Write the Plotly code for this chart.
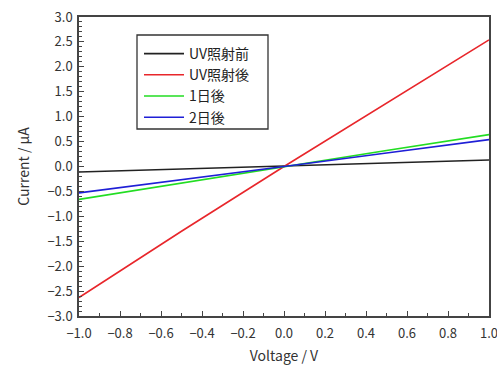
import plotly.graph_objects as go

voltage = [-1.0, -0.5, 0.0, 0.5, 1.0]
before_uv = [-0.11, -0.05, 0.0, 0.06, 0.13]
after_uv = [-2.63, -1.3, 0.0, 1.27, 2.54]
day1 = [-0.66, -0.33, 0.0, 0.32, 0.64]
day2 = [-0.53, -0.27, 0.0, 0.27, 0.54]

names = ["UV照射前", "UV照射後", "1日後", "2日後"]
colors = ["#222222", "#e8262b", "#22dd22", "#1f1fd6"]
series = [before_uv, after_uv, day1, day2]

fig = go.Figure()
for n, c, s in zip(names, colors, series):
    fig.add_trace(go.Scatter(x=voltage, y=s, mode="lines", name=n,
                             line=dict(color=c, width=1.6)))

# plot area in pixels: x 79..489, y 17..316
def px_x(p):
    return (p - 79) / 410.0

def px_y(p):
    return (316 - p) / 299.0

font = "Noto Sans CJK JP, Noto Sans, sans-serif"
axcol = "#444444"
fig.update_layout(
    width=497, height=368,
    margin=dict(l=79, r=8, t=17, b=52),
    paper_bgcolor="white", plot_bgcolor="white",
    font=dict(family=font, size=13, color="#333333"),
    legend=dict(x=px_x(139), y=px_y(38), xanchor="left", yanchor="top",
                borderwidth=0, bgcolor="rgba(0,0,0,0)",
                font=dict(size=14, color="#222222"), tracegroupgap=0,
                itemwidth=40),
    showlegend=True,
    shapes=[dict(type="rect", xref="paper", yref="paper",
                 x0=px_x(137), x1=px_x(268), y0=px_y(129), y1=px_y(35),
                 line=dict(color="#333333", width=1.3), layer="below")],
)
fig.update_xaxes(range=[-1, 1], dtick=0.2, tickformat=".1f", automargin=False,
                 showline=True, linecolor=axcol, linewidth=1.5, mirror=True,
                 ticks="inside", ticklen=5, tickcolor=axcol, showgrid=False,
                 zeroline=False, ticklabelstandoff=5, ticklabeloverflow="allow",
                 minor=dict(dtick=0.1, ticks="inside", ticklen=3, tickcolor=axcol, showgrid=False),
                 title=dict(text="Voltage / V", font=dict(size=14), standoff=10),
                 tickfont=dict(size=13))
fig.update_yaxes(range=[-3, 3], dtick=0.5, tickformat=".1f", automargin=False,
                 showline=True, linecolor=axcol, linewidth=1.5, mirror=True,
                 ticks="inside", ticklen=5, tickcolor=axcol, showgrid=False,
                 zeroline=False, ticklabelstandoff=2, ticklabeloverflow="allow",
                 minor=dict(dtick=0.1, ticks="inside", ticklen=3, tickcolor=axcol, showgrid=False),
                 title=dict(text="Current / μA", font=dict(size=14), standoff=14),
                 tickfont=dict(size=13))
fig.write_html("out.html", config={"displayModeBar": False},
               post_script="document.body.style.margin='0';")
